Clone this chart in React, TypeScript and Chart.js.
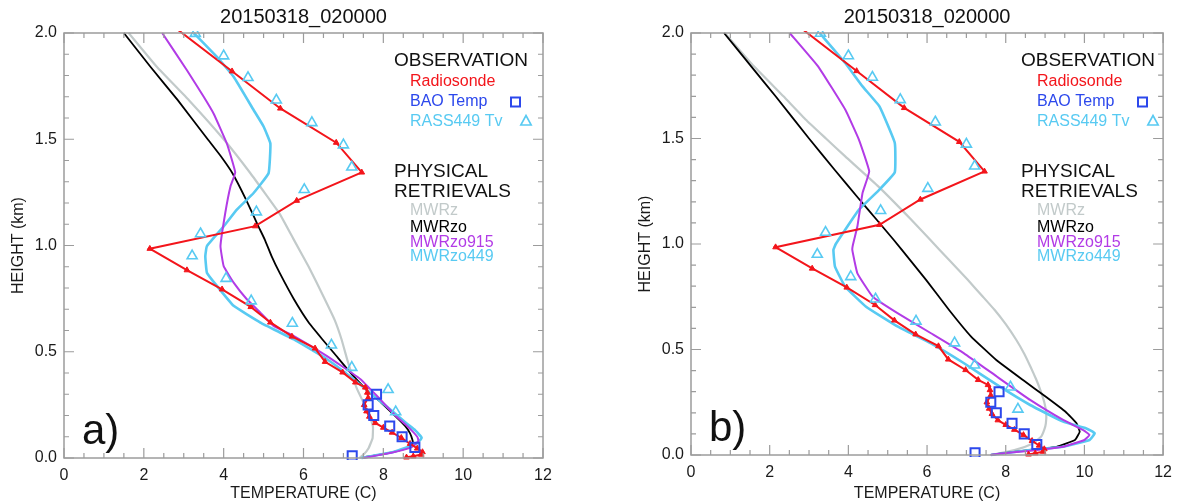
import React, { useEffect, useRef } from 'react';
import { Chart, registerables } from 'chart.js';

Chart.register(...registerables);
Chart.defaults.font.family = '"Liberation Sans", Arial, Helvetica, sans-serif';

// ---------- text ----------
const plotTitle = '20150318_020000';
const xAxisTitle = 'TEMPERATURE (C)';
const yAxisTitle = 'HEIGHT (km)';
const xTicks = [0, 2, 4, 6, 8, 10, 12];
const yTicks = [0, 0.5, 1.0, 1.5, 2.0];
const obsHeader = 'OBSERVATION';
const obsNames = ['Radiosonde', 'BAO Temp', 'RASS449 Tv'];
const retHeader = ['PHYSICAL', 'RETRIEVALS'];
const retNames = ['MWRz', 'MWRzo', 'MWRzo915', 'MWRzo449'];
const panelLabels = ['a)', 'b)'];

// ---------- observations (shared) ----------
const sondeTemp = [8.58, 8.75, 8.95, 8.98, 8.85, 8.67, 8.45, 8.22, 8.0, 7.8, 7.65, 7.58, 7.52, 7.62, 7.6, 7.55, 7.3, 6.98, 6.54, 6.29, 5.71, 5.17, 4.68, 3.96, 3.08, 2.15, 4.79, 5.83, 7.46, 6.82, 5.42, 4.21, 2.75];
const sondeHeight = [0.003, 0.008, 0.016, 0.028, 0.045, 0.067, 0.095, 0.12, 0.143, 0.165, 0.195, 0.22, 0.25, 0.283, 0.308, 0.332, 0.356, 0.403, 0.453, 0.516, 0.572, 0.638, 0.711, 0.794, 0.884, 0.985, 1.091, 1.211, 1.344, 1.484, 1.645, 1.82, 2.03];
const baoTemp = [7.22, 8.79, 8.47, 8.16, 7.76, 7.62, 7.83];
const baoHeight = [0.01, 0.05, 0.1, 0.15, 0.2, 0.25, 0.3];
const rassTemp = [8.31, 8.12, 7.21, 6.7, 5.72, 4.69, 4.06, 3.21, 3.42, 4.82, 6.02, 7.21, 7.0, 6.21, 5.32, 4.61, 4.0, 3.29];
const rassHeight = [0.217, 0.322, 0.426, 0.531, 0.634, 0.739, 0.845, 0.951, 1.055, 1.158, 1.263, 1.369, 1.473, 1.578, 1.684, 1.79, 1.892, 1.998];

// ---------- panel a retrievals ----------
const aMwrzTemp = [7.4, 7.5, 7.63, 7.73, 7.74, 7.64, 7.48, 7.33, 7.2, 7.1, 6.95, 6.78, 6.5, 6.13, 5.75, 5.4, 4.67, 4.0, 3.13, 2.33, 1.62];
const aMwrzHeight = [0.0, 0.015, 0.046, 0.093, 0.147, 0.21, 0.27, 0.33, 0.4, 0.46, 0.56, 0.65, 0.76, 0.9, 1.03, 1.15, 1.34, 1.5, 1.684, 1.84, 2.0];
const aMwrzoTemp = [7.5, 8.09, 8.59, 8.74, 8.73, 8.67, 8.55, 8.32, 7.95, 7.56, 7.17, 6.82, 6.47, 6.13, 5.76, 5.4, 5.2, 5.03, 4.87, 4.56, 4.22, 3.93, 3.6, 2.85, 2.17, 1.5];
const aMwrzoHeight = [0.003, 0.022, 0.046, 0.07, 0.085, 0.116, 0.15, 0.194, 0.26, 0.325, 0.403, 0.481, 0.559, 0.6375, 0.747, 0.872, 0.95, 1.028, 1.09, 1.216, 1.34, 1.42, 1.5, 1.684, 1.84, 2.0];
const aMwrzo915Temp = [7.5, 8.2, 8.7, 8.88, 8.85, 8.6, 8.3, 7.83, 7.42, 6.58, 5.75, 5.25, 4.92, 4.58, 4.25, 4.0, 3.92, 4.04, 4.17, 4.29, 4.08, 3.75, 3.5, 3.08, 2.46];
const aMwrzo915Height = [0.0, 0.025, 0.05, 0.08, 0.1, 0.15, 0.2, 0.294, 0.372, 0.481, 0.575, 0.622, 0.684, 0.747, 0.825, 0.903, 0.997, 1.153, 1.278, 1.344, 1.48, 1.62, 1.7, 1.825, 2.0];
const aMwrzo449Temp = [7.45, 8.25, 8.83, 8.96, 8.8, 8.6, 8.25, 7.75, 7.25, 6.58, 5.75, 4.92, 4.25, 3.83, 3.58, 3.54, 3.58, 4.0, 4.33, 4.75, 5.125, 5.17, 5.0, 4.75, 4.25, 3.83, 3.25];
const aMwrzo449Height = [0.0, 0.028, 0.067, 0.095, 0.13, 0.16, 0.216, 0.294, 0.372, 0.466, 0.559, 0.6375, 0.716, 0.81, 0.872, 0.95, 0.997, 1.09, 1.169, 1.247, 1.34, 1.48, 1.56, 1.6375, 1.794, 1.8875, 2.0];

// ---------- panel b retrievals ----------
const bMwrzTemp = [7.62, 8.05, 8.35, 8.6, 8.72, 8.9, 8.98, 9.02, 9.03, 8.98, 8.88, 8.77, 8.63, 8.47, 8.27, 8.0, 7.72, 7.42, 7.04, 6.55, 6.08, 5.6, 4.76, 3.92, 3.43, 2.92, 2.35, 1.6, 0.86];
const bMwrzHeight = [0.0, 0.016, 0.03, 0.047, 0.06, 0.087, 0.12, 0.15, 0.198, 0.25, 0.308, 0.36, 0.418, 0.48, 0.545, 0.62, 0.687, 0.75, 0.829, 0.926, 1.02, 1.115, 1.273, 1.415, 1.5, 1.589, 1.7, 1.842, 2.0];
const bMwrzoTemp = [7.62, 7.9, 8.62, 9.29, 9.76, 9.88, 9.8, 9.52, 9.02, 8.44, 7.76, 7.12, 6.56, 5.98, 5.56, 5.15, 4.72, 4.25, 3.65, 3.0, 2.15, 1.53, 0.84];
const bMwrzoHeight = [0.0, 0.008, 0.024, 0.039, 0.071, 0.11, 0.15, 0.205, 0.276, 0.355, 0.45, 0.561, 0.687, 0.829, 0.926, 1.02, 1.115, 1.218, 1.352, 1.5, 1.7, 1.842, 2.0];
const bMwrzo915Temp = [7.62, 7.78, 8.62, 9.46, 10.0, 10.13, 9.97, 9.46, 8.62, 7.78, 6.94, 6.1, 5.26, 4.62, 4.23, 4.1, 4.12, 4.23, 4.36, 4.53, 4.27, 3.92, 3.23, 2.51];
const bMwrzo915Height = [0.0, 0.005, 0.02, 0.039, 0.071, 0.095, 0.118, 0.166, 0.261, 0.371, 0.482, 0.577, 0.671, 0.75, 0.861, 0.972, 1.0, 1.084, 1.242, 1.344, 1.494, 1.637, 1.842, 2.0];
const bMwrzo449Temp = [7.62, 8.62, 9.46, 10.13, 10.26, 10.05, 9.46, 8.62, 7.78, 6.94, 6.1, 5.26, 4.45, 3.92, 3.66, 3.62, 3.68, 3.92, 4.27, 4.79, 5.18, 5.18, 4.79, 4.36, 3.92, 3.27];
const bMwrzo449Height = [0.0, 0.024, 0.039, 0.071, 0.103, 0.126, 0.158, 0.237, 0.332, 0.435, 0.529, 0.608, 0.703, 0.798, 0.893, 0.972, 1.0, 1.068, 1.163, 1.258, 1.34, 1.479, 1.652, 1.747, 1.858, 2.0];

// ---------- styles ----------
const cRed = '#f3151b';
const cBlue = '#2c48ec';
const cCyan = '#58caf2';
const cPurple = '#b23be6';
const cGrey = '#c2caca';
const cBlack = '#000000';
const cFrame = '#9c9c9c';
const FONT = '"Liberation Sans", Arial, Helvetica, sans-serif';

const pts = (t: number[], h: number[]) => t.map((v, i) => ({ x: v, y: h[i] }));

const decorPlugin = {
  id: 'decor',
  afterDatasetsDraw(chart: any, _args: any, opts: any) {
    const { ctx, chartArea } = chart;
    const { left, right, top, bottom } = chartArea;
    const xs = chart.scales.x;
    const ys = chart.scales.y;
    ctx.save();
    ctx.strokeStyle = cFrame;
    ctx.lineWidth = 1.5;
    ctx.strokeRect(left, top, right - left, bottom - top);
    ctx.lineWidth = 1.2;
    ctx.beginPath();
    for (let i = 0; i <= 24; i++) {
      const px = xs.getPixelForValue(i * 0.5);
      const len = i % 4 === 0 ? 10 : 5;
      ctx.moveTo(px, bottom); ctx.lineTo(px, bottom - len);
      ctx.moveTo(px, top); ctx.lineTo(px, top + len);
    }
    for (let i = 0; i <= 20; i++) {
      const py = ys.getPixelForValue(i / 10);
      const len = i % 5 === 0 ? 10 : 5;
      ctx.moveTo(left, py); ctx.lineTo(left + len, py);
      ctx.moveTo(right, py); ctx.lineTo(right - len, py);
    }
    ctx.stroke();

    ctx.fillStyle = '#111';
    ctx.textAlign = 'center';
    ctx.textBaseline = 'middle';
    ctx.font = `20px ${FONT}`;
    ctx.fillText(plotTitle, (left + right) / 2, top - 16);

    const lx = left + 330;
    const ix = left + 346;
    ctx.textAlign = 'left';
    ctx.font = `19px ${FONT}`;
    ctx.fillStyle = '#111';
    ctx.fillText(obsHeader, lx, top + 28);
    ctx.font = `16px ${FONT}`;
    const obsColors = [cRed, cBlue, cCyan];
    const obsY = [top + 49, top + 69, top + 89];
    obsNames.forEach((n, i) => {
      ctx.fillStyle = obsColors[i];
      ctx.fillText(n, ix, obsY[i]);
    });
    ctx.strokeStyle = cBlue;
    ctx.lineWidth = 2;
    ctx.strokeRect(left + 447, obsY[1] - 4.5, 9, 9);
    ctx.strokeStyle = cCyan;
    ctx.lineWidth = 1.6;
    ctx.beginPath();
    const tx = left + 462, ty = obsY[2] - 1;
    ctx.moveTo(tx, ty - 5.5);
    ctx.lineTo(tx + 5.2, ty + 4);
    ctx.lineTo(tx - 5.2, ty + 4);
    ctx.closePath();
    ctx.stroke();

    ctx.font = `19px ${FONT}`;
    ctx.fillStyle = '#111';
    ctx.fillText(retHeader[0], lx, top + 139);
    ctx.fillText(retHeader[1], lx, top + 159);
    ctx.font = `16px ${FONT}`;
    const retColors = [cGrey, cBlack, cPurple, cCyan];
    const retY = [top + 178, top + 195, top + 210, top + 224];
    retNames.forEach((n, i) => {
      ctx.fillStyle = retColors[i];
      ctx.fillText(n, ix, retY[i]);
    });

    ctx.fillStyle = '#111';
    ctx.font = `42px ${FONT}`;
    ctx.textBaseline = 'alphabetic';
    ctx.fillText(opts.label, left + 18, bottom - 14);
    ctx.restore();
  },
};

function makeConfig(panel: number): any {
  const isA = panel === 0;
  const mwrz = isA ? pts(aMwrzTemp, aMwrzHeight) : pts(bMwrzTemp, bMwrzHeight);
  const mwrzo = isA ? pts(aMwrzoTemp, aMwrzoHeight) : pts(bMwrzoTemp, bMwrzoHeight);
  const m915 = isA ? pts(aMwrzo915Temp, aMwrzo915Height) : pts(bMwrzo915Temp, bMwrzo915Height);
  const m449 = isA ? pts(aMwrzo449Temp, aMwrzo449Height) : pts(bMwrzo449Temp, bMwrzo449Height);
  const lineDs = (label: string, data: any, color: string, width: number) => ({
    label, data, showLine: true, borderColor: color, backgroundColor: color,
    borderWidth: width, pointRadius: 0, tension: 0.1, clip: 2,
  });
  return {
    type: 'scatter',
    data: {
      datasets: [
        {
          label: obsNames[2], data: pts(rassTemp, rassHeight), showLine: false,
          pointStyle: 'triangle', pointRadius: 5.8, borderColor: cCyan, pointBorderWidth: 1.6,
          backgroundColor: 'rgba(0,0,0,0)', clip: 2,
        },
        {
          label: obsNames[1], data: pts(baoTemp, baoHeight), showLine: false,
          pointStyle: 'rect', pointRadius: 6.4, borderColor: cBlue, pointBorderWidth: 2,
          backgroundColor: 'rgba(0,0,0,0)', clip: 2,
        },
        {
          label: obsNames[0], data: pts(sondeTemp, sondeHeight), showLine: true,
          borderColor: cRed, backgroundColor: cRed, borderWidth: 2,
          pointStyle: 'triangle', pointRadius: 3.3, pointBorderWidth: 1, tension: 0, clip: 2,
        },
        lineDs(retNames[2], m915, cPurple, 2),
        lineDs(retNames[3], m449, cCyan, 2.6),
        lineDs(retNames[1], mwrzo, cBlack, 1.8),
        lineDs(retNames[0], mwrz, cGrey, 2.2),
      ],
    },
    options: {
      responsive: false,
      animation: false,
      events: [],
      layout: {
        padding: isA ? { left: 0, right: 47, top: 33, bottom: 0 } : { left: 37, right: 13, top: 33, bottom: 0 },
      },
      plugins: {
        legend: { display: false },
        tooltip: { enabled: false },
        title: { display: false },
        decor: { label: panelLabels[panel] },
      },
      scales: {
        x: {
          type: 'linear', min: 0, max: 12,
          afterBuildTicks: (s: any) => { s.ticks = xTicks.map((v) => ({ value: v })); },
          afterFit: (s: any) => { s.height = isA ? 45 : 48; },
          grid: { display: false, drawTicks: false },
          border: { display: false },
          ticks: {
            padding: 8, color: '#1a1a1a', font: { size: 16 }, maxRotation: 0, autoSkip: false,
            callback: (v: any) => String(v),
          },
          title: { display: true, text: xAxisTitle, color: '#1a1a1a', font: { size: 16 }, padding: { top: 0, bottom: 0 } },
        },
        y: {
          type: 'linear', min: 0, max: 2,
          afterBuildTicks: (s: any) => { s.ticks = yTicks.map((v) => ({ value: v })); },
          afterFit: (s: any) => { s.width = 64; },
          grid: { display: false, drawTicks: false },
          border: { display: false },
          ticks: {
            padding: 7, color: '#1a1a1a', font: { size: 16 }, autoSkip: false,
            callback: (v: any) => Number(v).toFixed(1),
          },
          title: { display: true, text: yAxisTitle, color: '#1a1a1a', font: { size: 16 }, padding: { top: 9, bottom: 0 } },
        },
      },
    },
    plugins: [decorPlugin],
  };
}

function Panel({ panel, left }: { panel: number; left: number }) {
  const ref = useRef<HTMLCanvasElement | null>(null);
  useEffect(() => {
    if (!ref.current) return;
    const chart = new Chart(ref.current, makeConfig(panel));
    return () => chart.destroy();
  }, [panel]);
  return (
    <canvas
      ref={ref}
      width={590}
      height={503}
      style={{ position: 'absolute', left, top: 0, width: 590, height: 503 }}
    />
  );
}

export default function App() {
  return (
    <div style={{ position: 'absolute', left: 0, top: 0, width: 1180, height: 503, background: '#ffffff', overflow: 'hidden' }}>
      <Panel panel={0} left={0} />
      <Panel panel={1} left={590} />
    </div>
  );
}
